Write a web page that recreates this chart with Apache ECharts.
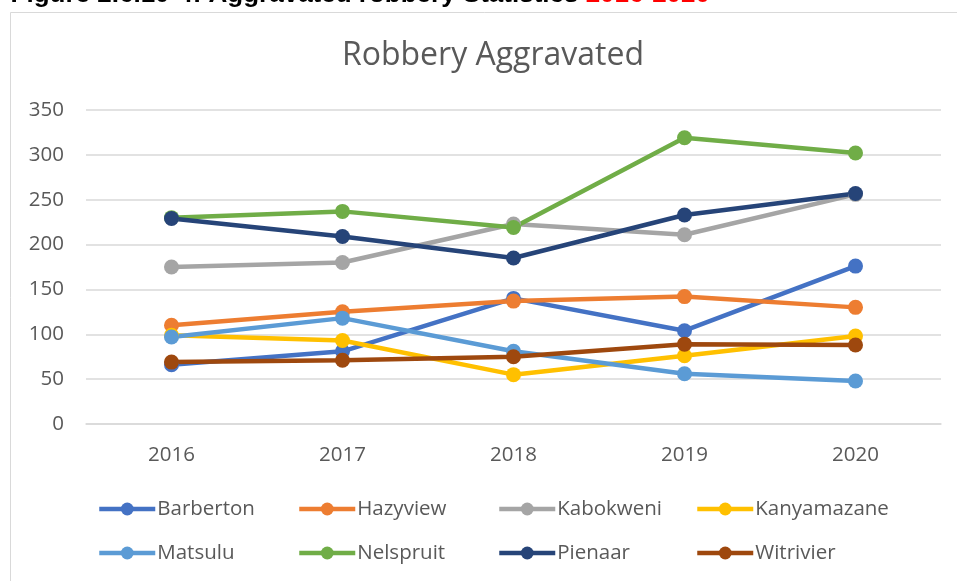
<!DOCTYPE html>
<html>
<head>
<meta charset="utf-8">
<script src="https://cdn.jsdelivr.net/npm/echarts@6/dist/echarts.min.js"></script>
<style>
  html, body { margin: 0; padding: 0; background: #ffffff; }
  #chart { width: 957px; height: 581px; }
</style>
</head>
<body>
<div id="chart"></div>
<script>
// Reporting years
const years = ['2016', '2017', '2018', '2019', '2020'];

// Aggravated robbery counts per station
const barberton   = [66, 81, 140, 104, 176];
const hazyview    = [110, 125, 137, 142, 130];
const kabokweni   = [175, 180, 223, 211, 256];
const kanyamazane = [99, 93, 55, 76, 98];
const matsulu     = [97, 118, 81, 56, 48];
const nelspruit   = [230, 237, 219, 319, 302];
const pienaar     = [229, 209, 185, 233, 257];
const witrivier   = [69, 71, 75, 89, 88];

// Value axis ticks
const yTicks = [0, 50, 100, 150, 200, 250, 300, 350];

const stations = [
  { name: 'Barberton',   data: barberton,   color: '#4472C4' },
  { name: 'Hazyview',    data: hazyview,    color: '#ED7D31' },
  { name: 'Kabokweni',   data: kabokweni,   color: '#A5A5A5' },
  { name: 'Kanyamazane', data: kanyamazane, color: '#FFC000' },
  { name: 'Matsulu',     data: matsulu,     color: '#5B9BD5' },
  { name: 'Nelspruit',   data: nelspruit,   color: '#70AD47' },
  { name: 'Pienaar',     data: pienaar,     color: '#264478' },
  { name: 'Witrivier',   data: witrivier,   color: '#9E480E' }
];

const FONT = '"Open Sans", "Liberation Sans", sans-serif';
const TEXT_GREY = '#595959';
const GRID_GREY = '#d9d9d9';

// Legend laid out as four columns of two rows
const legendCols = [97, 297, 497, 695];
const legends = legendCols.map((left, i) => ({
  orient: 'vertical',
  left: left,
  top: 498,
  itemWidth: 56,
  itemHeight: 16,
  itemGap: 22,
  padding: 0,
  data: [stations[i].name, stations[i + 4].name],
  lineStyle: { width: 4.5 },
  textStyle: { fontFamily: FONT, fontSize: 20.5, color: TEXT_GREY, lineHeight: 22, padding: [0, 0, 0, -3] }
}));

const chart = echarts.init(document.getElementById('chart'), null, { renderer: 'canvas' });

chart.setOption({
  backgroundColor: '#ffffff',
  animation: false,
  title: {
    text: 'Robbery Aggravated',
    left: 488,
    textAlign: 'center',
    top: 35,
    textStyle: { fontFamily: FONT, fontSize: 32, fontWeight: 'normal', color: TEXT_GREY }
  },
  graphic: [
    {
      type: 'rect',
      shape: { x: 10.5, y: 12.5, width: 980, height: 620 },
      style: { fill: 'none', stroke: GRID_GREY, lineWidth: 1 },
      silent: true
    },
    {
      type: 'text',
      x: 710,
      y: -5,
      style: {
        text: '{b|Figure 2.6.10-4: Aggravated robbery Statistics }{r|2016-2020}',
        align: 'right',
        verticalAlign: 'middle',
        rich: {
          b: { fontFamily: '"Liberation Sans", Arial, sans-serif', fontSize: 26, fontWeight: 'bold', fill: '#000000' },
          r: { fontFamily: '"Liberation Sans", Arial, sans-serif', fontSize: 26, fontWeight: 'bold', fill: '#FF0000' }
        }
      },
      silent: true
    }
  ],
  legend: legends,
  grid: { left: 86, right: 16, top: 110, bottom: 157 },
  xAxis: {
    type: 'category',
    data: years,
    boundaryGap: true,
    axisLine: { show: true, lineStyle: { color: GRID_GREY, width: 1.5 } },
    axisTick: { show: false },
    axisLabel: { fontFamily: FONT, fontSize: 20.5, color: TEXT_GREY, margin: 21 }
  },
  yAxis: {
    type: 'value',
    min: yTicks[0],
    max: yTicks[yTicks.length - 1],
    interval: 50,
    axisLine: { show: false },
    axisTick: { show: false },
    axisLabel: { fontFamily: FONT, fontSize: 20.5, color: TEXT_GREY, margin: 22 },
    splitLine: { lineStyle: { color: GRID_GREY, width: 1.5 } }
  },
  series: stations.map(s => ({
    name: s.name,
    type: 'line',
    data: s.data,
    symbol: 'circle',
    symbolSize: 15,
    color: s.color,
    lineStyle: { width: 4.5, color: s.color },
    itemStyle: { color: s.color }
  }))
});
</script>
</body>
</html>
